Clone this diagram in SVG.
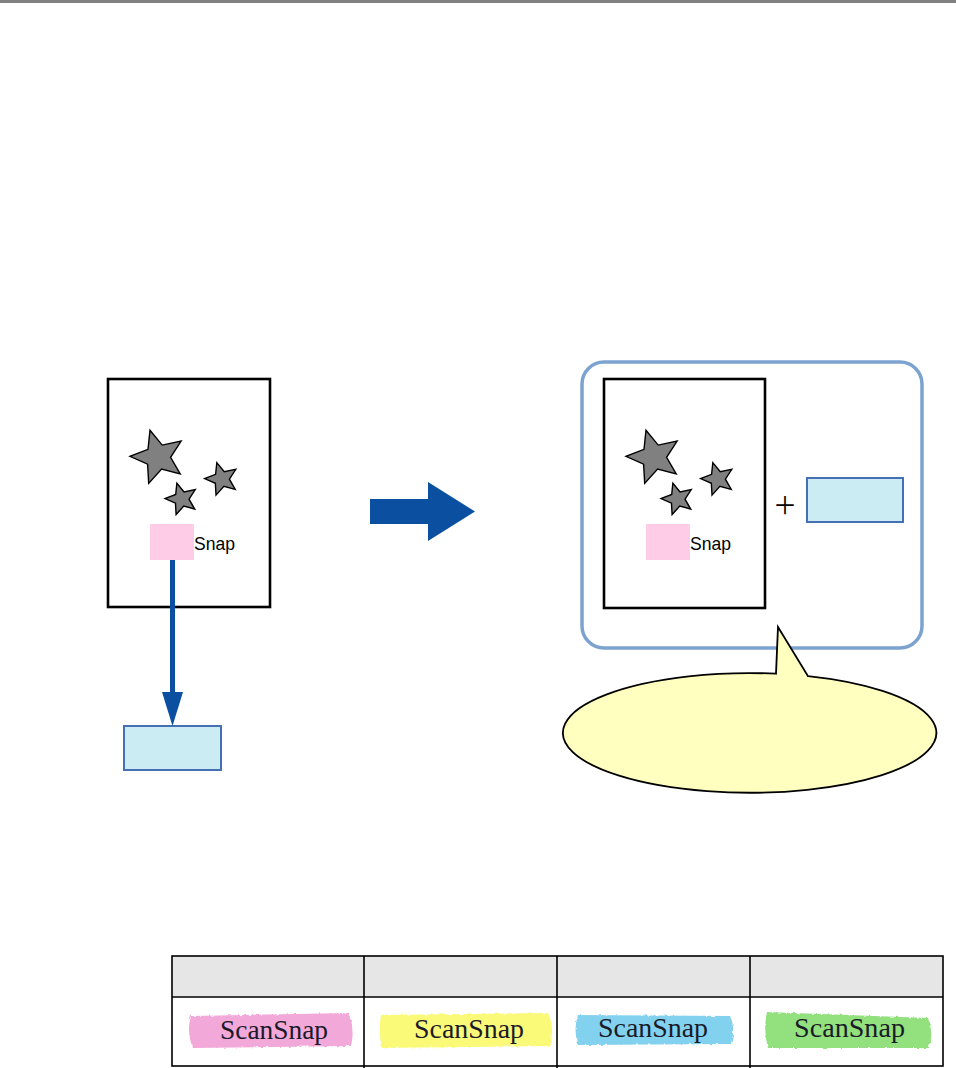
<svg xmlns="http://www.w3.org/2000/svg" xmlns:xlink="http://www.w3.org/1999/xlink" width="956" height="1068" viewBox="0 0 956 1068">
<style>
.doc{fill:#fff;stroke:#000;stroke-width:2.6}
.star{fill:#808080;stroke:#000;stroke-width:1.4}
.pink{fill:#FFCCE7}
.snap{font-family:"Liberation Sans",Arial,sans-serif;font-size:18.5px;fill:#000}
.lbox{fill:#CCECF3;stroke:#4670B4;stroke-width:2}
.tbl{fill:none;stroke:#000;stroke-width:1.6}
.mk{font-family:"Liberation Serif","Times New Roman",serif;font-size:27px;fill:#1a1a28}
</style>
<defs>
<path id="star" d="M-8,-26.8 L4.2,-11.9 L23.1,-15.9 L12.6,0.3 L22.2,17 L3.6,12.1 L-9.3,26.4 L-10.4,7.1 L-28,-0.7 L-10,-7.7 Z"/>
<filter id="rough" x="-5%" y="-20%" width="110%" height="140%">
<feTurbulence type="fractalNoise" baseFrequency="0.25" numOctaves="2" seed="3"/>
<feDisplacementMap in="SourceGraphic" scale="3"/>
</filter>
</defs>
<rect x="0" y="0" width="956" height="3" fill="#808080"/>

<g id="doc-left">
<rect class="doc" x="108" y="379" width="162" height="228"/>
<use href="#star" class="star" transform="translate(158,457)"/>
<use href="#star" class="star" transform="translate(221.7,479) scale(0.61)" style="stroke-width:2.3"/>
<use href="#star" class="star" transform="translate(181.6,499) scale(0.59)" style="stroke-width:2.4"/>
<rect class="pink" x="150" y="524" width="44" height="36"/>
<text class="snap" x="194" y="549.5" textLength="41" lengthAdjust="spacingAndGlyphs">Snap</text>
</g>

<g id="box-left">
<rect class="lbox" x="124" y="726" width="97" height="44"/>
</g>

<g id="result-group">
<rect x="582" y="362" width="340" height="286" rx="22" fill="#fff" stroke="#7CA3D0" stroke-width="3.5"/>
</g>

<g id="doc-right" transform="translate(496,0)">
<rect class="doc" x="108" y="379" width="161" height="229"/>
<use href="#star" class="star" transform="translate(158,457)"/>
<use href="#star" class="star" transform="translate(221.7,479) scale(0.61)" style="stroke-width:2.3"/>
<use href="#star" class="star" transform="translate(181.6,499) scale(0.59)" style="stroke-width:2.4"/>
<rect class="pink" x="150" y="524" width="44" height="36"/>
<text class="snap" x="194" y="549.5" textLength="41" lengthAdjust="spacingAndGlyphs">Snap</text>
</g>

<g id="plus">
<text x="785" y="514" text-anchor="middle" font-family="'Noto Sans CJK JP',sans-serif" font-size="24" fill="#000">＋</text>
</g>

<g id="box-right">
<rect class="lbox" x="807" y="478" width="96" height="44"/>
</g>

<g id="callout">
<path d="M776,673.7 L778,627 L808,676.1 A186.7,59.8 0 1 1 776,673.7 Z" fill="#FFFFC0" stroke="#000" stroke-width="1.8" stroke-linejoin="miter"/>
</g>

<g id="connectors">
<line x1="172.5" y1="560" x2="172.5" y2="694" stroke="#0B50A0" stroke-width="5"/>
<polygon points="162,692 183,692 172.5,726" fill="#0B50A0"/>
<polygon points="370,499 428,499 428,482 475,511.5 428,541 428,524 370,524" fill="#0B50A0"/>
</g>

<g id="table">
<rect x="172" y="956" width="771" height="41" fill="#E6E6E6"/>
<rect class="tbl" x="172" y="956" width="771" height="110"/>
<line class="tbl" x1="172" y1="997" x2="943" y2="997"/>
<line class="tbl" x1="364" y1="956" x2="364" y2="1068"/>
<line class="tbl" x1="557" y1="956" x2="557" y2="1068"/>
<line class="tbl" x1="750" y1="956" x2="750" y2="1068"/>
</g>

<g id="marker-pink">
<path filter="url(#rough)" fill="#F3A8DA" d="M191,1016 L349,1013 Q355,1030 351,1046 L193,1048 Q186,1032 191,1016 Z"/>
<text class="mk" x="220" y="1039" textLength="108" lengthAdjust="spacingAndGlyphs">ScanSnap</text>
</g>
<g id="marker-yellow">
<path filter="url(#rough)" fill="#FAFA78" d="M381,1015 L548,1013 Q555,1028 550,1046 L382,1048 Q378,1031 381,1015 Z"/>
<text class="mk" x="414" y="1038" textLength="110" lengthAdjust="spacingAndGlyphs">ScanSnap</text>
</g>
<g id="marker-cyan">
<path filter="url(#rough)" fill="#82D2EF" d="M578,1015 L730,1016 Q736,1028 731,1044 L578,1045 Q573,1030 578,1015 Z"/>
<text class="mk" x="598" y="1037" textLength="110" lengthAdjust="spacingAndGlyphs">ScanSnap</text>
</g>
<g id="marker-green">
<path filter="url(#rough)" fill="#92E07E" d="M767,1012 L928,1018 Q934,1032 929,1048 L768,1048 Q763,1030 767,1012 Z"/>
<text class="mk" x="794" y="1037" textLength="111" lengthAdjust="spacingAndGlyphs">ScanSnap</text>
</g>
</svg>
